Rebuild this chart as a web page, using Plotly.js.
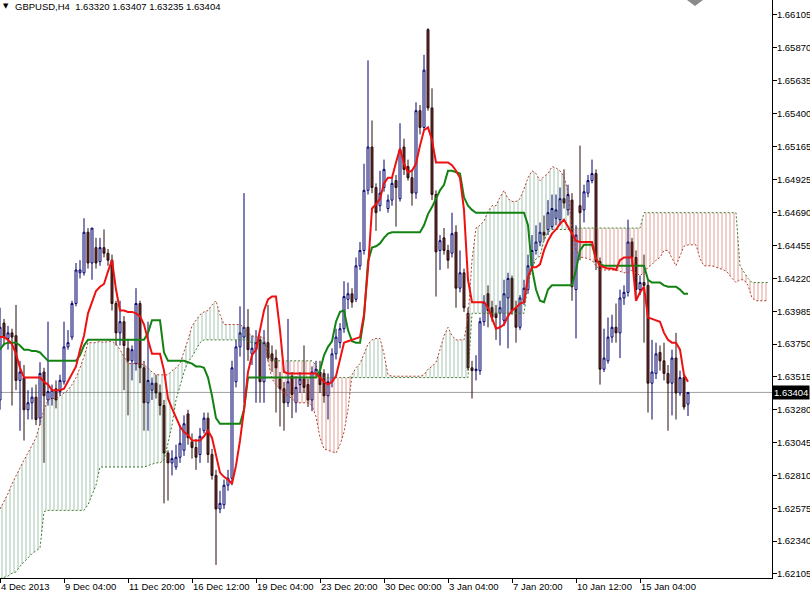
<!DOCTYPE html>
<html><head><meta charset="utf-8">
<script src="https://cdn.plot.ly/plotly-3.0.1.min.js"></script>
<style>html,body{margin:0;padding:0;background:#fff;}#chart{width:810px;height:595px;}</style>
</head><body><div id="chart"></div>
<script>
const symbol = 'GBPUSD', timeframe = 'H4';
const timeLabels = ['4 Dec 2013','9 Dec 04:00','11 Dec 20:00','16 Dec 12:00','19 Dec 04:00','23 Dec 20:00','30 Dec 00:00','3 Jan 04:00','7 Jan 20:00','10 Jan 12:00','15 Jan 04:00'];
const timeLabelBars = [0,16,32,48,64,80,96,112,128,144,160];
const priceTicks = [1.66105,1.65870,1.65635,1.65400,1.65165,1.64925,1.64690,1.64455,1.64220,1.63985,1.63750,1.63515,1.63280,1.63045,1.62810,1.62575,1.62340,1.62105];
const lastPrice = 1.63404;

const open = [
1.6335,1.6390,1.6379,1.6383,1.6381,1.6349,1.6351,1.6328,1.6333,1.6337,
1.6322,1.6355,1.6335,1.6336,1.6343,1.6341,1.6348,1.6373,1.6380,1.6404,
1.6426,1.6426,1.6455,1.6433,1.6444,1.6434,1.6444,1.6440,1.6435,1.6404,
1.6383,1.6391,1.6372,1.6363,1.6361,1.6404,1.6358,1.6333,1.6342,1.6347,
1.6340,1.6331,1.6297,1.6290,1.6287,1.6294,1.6299,1.6325,1.6305,1.6301,
1.6296,1.6313,1.6322,1.6296,1.6281,1.6257,1.6260,1.6274,1.6279,1.6348,
1.6373,1.6380,1.6387,1.6368,1.6371,1.6378,1.6348,1.6376,1.6368,1.6365,
1.6350,1.6343,1.6333,1.6352,1.6333,1.6346,1.6350,1.6346,1.6335,1.6354,
1.6355,1.6354,1.6338,1.6348,1.6368,1.6376,1.6386,1.6407,1.6411,1.6407,
1.6431,1.6442,1.6485,1.6516,1.6487,1.6474,1.6487,1.6472,1.6478,1.6492,
1.6479,1.6516,1.6502,1.6494,1.6483,1.6542,1.6530,1.6600,1.6544,1.6482,
1.6442,1.6451,1.6442,1.6440,1.6455,1.6415,1.6426,1.6397,1.6358,1.6356,
1.6356,1.6391,1.6411,1.6401,1.6397,1.6397,1.6392,1.6408,1.6422,1.6401,
1.6387,1.6406,1.6414,1.6431,1.6442,1.6448,1.6455,1.6457,1.6459,1.6465,
1.6464,1.6479,1.6471,1.6478,1.6414,1.6474,1.6471,1.6483,1.6492,1.6497,
1.6434,1.6357,1.6363,1.6380,1.6387,1.6383,1.6408,1.6412,1.6448,1.6437,
1.6414,1.6419,1.6417,1.6347,1.6354,1.6369,1.6363,1.6354,1.6347,1.6365,
1.6340,1.6351,1.63320];
const high = [
1.6401,1.6393,1.6388,1.6386,1.6403,1.6363,1.6360,1.6342,1.6344,1.6346,
1.6362,1.6358,1.6391,1.6346,1.6349,1.6353,1.6391,1.6385,1.6406,1.6433,
1.6435,1.6465,1.6458,1.6458,1.6451,1.6451,1.6457,1.6443,1.6439,1.6406,
1.6406,1.6395,1.6378,1.6374,1.6415,1.6406,1.6363,1.6391,1.6351,1.6353,
1.6346,1.6335,1.6299,1.6299,1.6303,1.6317,1.6324,1.6328,1.6311,1.6307,
1.6315,1.6326,1.6326,1.6300,1.6285,1.6270,1.6278,1.6285,1.6363,1.6378,
1.6402,1.6483,1.6400,1.6381,1.6385,1.6381,1.6385,1.6403,1.6374,1.6371,
1.6355,1.6348,1.6393,1.6355,1.6352,1.6355,1.6374,1.6350,1.6359,1.6363,
1.6363,1.6357,1.6354,1.6372,1.6386,1.6390,1.6420,1.6419,1.6415,1.6437,
1.6448,1.6504,1.6578,1.6535,1.6490,1.6499,1.6507,1.6482,1.6494,1.6496,
1.6533,1.6522,1.6507,1.6500,1.6548,1.6546,1.6582,1.6601,1.6558,1.6485,
1.6453,1.6458,1.6446,1.6469,1.6460,1.6442,1.6429,1.6401,1.6363,1.6367,
1.6394,1.6410,1.6417,1.6406,1.6403,1.6406,1.6421,1.6426,1.6424,1.6406,
1.6410,1.6421,1.6439,1.6453,1.6460,1.6462,1.6467,1.6478,1.6482,1.6482,
1.6487,1.6500,1.6489,1.6483,1.6460,1.6517,1.6489,1.6496,1.6507,1.6500,
1.6437,1.6386,1.6394,1.6396,1.6404,1.6414,1.6417,1.6464,1.6451,1.6442,
1.6424,1.6439,1.6421,1.6378,1.6376,1.6374,1.6376,1.6360,1.6371,1.6383,
1.6356,1.6353,1.63407];
const low = [
1.6328,1.6374,1.6371,1.6331,1.6342,1.6313,1.6306,1.6321,1.6321,1.6317,
1.6317,1.6290,1.6331,1.6331,1.6329,1.6338,1.6346,1.6371,1.6378,1.6402,
1.6422,1.6424,1.6429,1.6421,1.6429,1.6431,1.6437,1.6431,1.6399,1.6374,
1.6374,1.6342,1.6324,1.6349,1.6356,1.6347,1.6313,1.6313,1.6335,1.6336,
1.6324,1.6261,1.6263,1.6281,1.6285,1.6290,1.6295,1.6303,1.6293,1.6285,
1.6290,1.6311,1.6290,1.6278,1.6217,1.6254,1.6257,1.6270,1.6274,1.6344,
1.6366,1.6333,1.6363,1.6360,1.6333,1.6333,1.6333,1.6363,1.6355,1.6326,
1.6316,1.6313,1.6330,1.6322,1.6326,1.6340,1.6340,1.6330,1.6327,1.6352,
1.6340,1.6333,1.6321,1.6344,1.6364,1.6372,1.6383,1.6400,1.6401,1.6405,
1.6428,1.6439,1.6482,1.6483,1.6456,1.6470,1.6484,1.6469,1.6474,1.6459,
1.6477,1.6496,1.6492,1.6474,1.6479,1.6525,1.6528,1.6542,1.6478,1.6409,
1.6428,1.6439,1.6429,1.6437,1.6401,1.6412,1.6398,1.6356,1.6336,1.6349,
1.6353,1.6388,1.6387,1.6391,1.6378,1.6374,1.6388,1.6372,1.6396,1.6376,
1.6385,1.6403,1.6411,1.6428,1.6439,1.6445,1.6449,1.6453,1.6457,1.6460,
1.6460,1.6472,1.6467,1.6406,1.6379,1.6435,1.6462,1.6480,1.6490,1.6428,
1.6346,1.6355,1.6361,1.6376,1.6376,1.6365,1.6403,1.6409,1.6431,1.6406,
1.6410,1.6376,1.6326,1.6321,1.6350,1.6356,1.6349,1.6313,1.6324,1.6321,
1.6338,1.6328,1.63235];
const close = [
1.6387,1.6380,1.6383,1.6380,1.6349,1.6355,1.6328,1.6333,1.6337,1.6321,
1.6354,1.6338,1.6341,1.6342,1.6335,1.6349,1.6373,1.6376,1.6404,1.6428,
1.6428,1.6455,1.6433,1.6458,1.6433,1.6444,1.6440,1.6435,1.6404,1.6383,
1.6391,1.6374,1.6363,1.6371,1.6404,1.6358,1.6333,1.6349,1.6347,1.6340,
1.6331,1.6297,1.6290,1.6293,1.6294,1.6304,1.6318,1.6308,1.6301,1.6294,
1.6309,1.6322,1.6296,1.6281,1.6257,1.6261,1.6274,1.6279,1.6358,1.6373,
1.6383,1.6387,1.6371,1.6372,1.6376,1.6348,1.6376,1.6365,1.6363,1.6358,
1.6343,1.6333,1.6348,1.6339,1.6344,1.6350,1.6344,1.6335,1.6355,1.6357,
1.6346,1.6338,1.6348,1.6368,1.6380,1.6386,1.6409,1.6411,1.6405,1.6431,
1.6442,1.6485,1.6516,1.6487,1.6469,1.6483,1.6500,1.6478,1.6490,1.6487,
1.6514,1.6500,1.6494,1.6483,1.6542,1.6530,1.6571,1.6544,1.6482,1.6441,
1.6449,1.6442,1.6435,1.6454,1.6415,1.6426,1.6401,1.6358,1.6356,1.6357,
1.6391,1.6405,1.6399,1.6394,1.6394,1.6401,1.6411,1.6422,1.6399,1.6387,
1.6408,1.6415,1.6431,1.6442,1.6448,1.6455,1.6453,1.6469,1.6472,1.6471,
1.6479,1.6476,1.6482,1.6416,1.6453,1.6469,1.6484,1.6492,1.6497,1.6434,
1.6357,1.6365,1.6380,1.6387,1.6383,1.6408,1.6412,1.6448,1.6437,1.6414,
1.6419,1.6417,1.6347,1.6355,1.6368,1.6363,1.6354,1.6347,1.6365,1.6340,
1.6351,1.6330,1.63404];

const tenkan = [
1.6380,1.6380,1.6378,1.6375,1.6368,1.6358,1.6351,1.6351,1.6351,1.6351,
1.6351,1.6348,1.6346,1.6342,1.6342,1.6342,1.6343,1.6348,1.6353,1.6359,
1.6371,1.6381,1.6397,1.6405,1.6413,1.6416,1.6418,1.6427,1.6435,1.6414,
1.6399,1.6399,1.6398,1.6398,1.6397,1.6395,1.6389,1.6378,1.6368,1.6368,
1.6368,1.6356,1.6336,1.6329,1.6322,1.6316,1.6312,1.6310,1.6306,1.6306,
1.6306,1.6309,1.6313,1.6308,1.6295,1.6283,1.6280,1.6278,1.6275,1.6288,
1.6306,1.6328,1.6355,1.6367,1.6371,1.6385,1.6399,1.6407,1.6409,1.6409,
1.6385,1.6355,1.6354,1.6354,1.6354,1.6354,1.6354,1.6354,1.6354,1.6354,
1.6351,1.6348,1.6346,1.6348,1.6352,1.6365,1.6376,1.6377,1.6378,1.6379,
1.6380,1.6396,1.6429,1.6472,1.6475,1.6479,1.6490,1.6494,1.6494,1.6505,
1.6515,1.6504,1.6498,1.6499,1.6504,1.6517,1.6528,1.6530,1.6521,1.6505,
1.6505,1.6505,1.6505,1.6503,1.6499,1.6494,1.6471,1.6421,1.6405,1.6405,
1.6405,1.6405,1.6401,1.6394,1.6386,1.6387,1.6389,1.6395,1.6399,1.6401,
1.6404,1.6405,1.6423,1.6430,1.6430,1.6432,1.6442,1.6449,1.6454,1.6457,
1.6461,1.6464,1.6459,1.6454,1.6449,1.6448,1.6448,1.6448,1.6448,1.6436,
1.6431,1.6430,1.6429,1.6429,1.6428,1.6435,1.6437,1.6437,1.6437,1.6406,
1.6412,1.6416,1.6394,1.6393,1.6392,1.6391,1.6383,1.6378,1.6376,1.6376,
1.6371,1.6353,1.6348];
const kijun = [
1.6371,1.6375,1.6376,1.6376,1.6376,1.6374,1.6371,1.6371,1.6370,1.6370,
1.6369,1.6366,1.6363,1.6363,1.6363,1.6363,1.6363,1.6363,1.6363,1.6363,
1.6367,1.6374,1.6378,1.6378,1.6378,1.6378,1.6378,1.6378,1.6378,1.6378,
1.6378,1.6378,1.6378,1.6378,1.6378,1.6378,1.6378,1.6383,1.6392,1.6392,
1.6392,1.6369,1.6363,1.6363,1.6363,1.6363,1.6363,1.6362,1.6361,1.6359,
1.6359,1.6358,1.6351,1.6338,1.6322,1.6318,1.6318,1.6318,1.6318,1.6318,
1.6318,1.6328,1.6351,1.6351,1.6351,1.6351,1.6351,1.6351,1.6351,1.6351,
1.6351,1.6351,1.6351,1.6351,1.6351,1.6351,1.6351,1.6351,1.6351,1.6351,
1.6356,1.6367,1.6373,1.6377,1.6391,1.6398,1.6399,1.6385,1.6377,1.6376,
1.6376,1.6394,1.6434,1.6444,1.6445,1.6447,1.6451,1.6454,1.6455,1.6455,
1.6455,1.6455,1.6455,1.6455,1.6455,1.6455,1.6460,1.6468,1.6473,1.6479,
1.6485,1.6489,1.6499,1.6499,1.6498,1.6497,1.6480,1.6474,1.6471,1.6469,
1.6469,1.6469,1.6469,1.6469,1.6469,1.6469,1.6469,1.6469,1.6469,1.6469,
1.6469,1.6469,1.6460,1.6429,1.6414,1.6406,1.6405,1.6414,1.6417,1.6417,
1.6417,1.6417,1.6417,1.6417,1.6428,1.6442,1.6446,1.6446,1.6446,1.6436,
1.6432,1.6431,1.6431,1.6431,1.6431,1.6431,1.6431,1.6431,1.6431,1.6431,
1.6431,1.6431,1.6421,1.6419,1.6419,1.6419,1.6417,1.6416,1.6416,1.6416,
1.6414,1.6411,1.6411];
const spanA = [
1.6257,1.6262,1.6268,1.6275,1.6281,1.6287,1.6292,1.6297,1.6303,1.6308,
1.6318,1.6328,1.6335,1.6336,1.6336,1.6338,1.6340,1.6342,1.6346,1.6351,
1.6358,1.6366,1.6376,1.6376,1.6376,1.6377,1.6376,1.6377,1.6377,1.6375,
1.6371,1.6366,1.6361,1.6361,1.6361,1.6361,1.6360,1.6358,1.6355,1.6353,
1.6353,1.6353,1.6353,1.6356,1.6358,1.6361,1.6369,1.6378,1.6388,1.6392,
1.6396,1.6398,1.6399,1.6403,1.6406,1.6396,1.6389,1.6389,1.6389,1.6389,
1.6389,1.6387,1.6383,1.6381,1.6380,1.6380,1.6380,1.6363,1.6350,1.6346,
1.6343,1.6340,1.6338,1.6336,1.6333,1.6333,1.6333,1.6333,1.6331,1.6323,
1.6308,1.6300,1.6299,1.6298,1.6297,1.6303,1.6312,1.6328,1.6353,1.6358,
1.6361,1.6368,1.6375,1.6378,1.6379,1.6379,1.6368,1.6353,1.6352,1.6352,
1.6352,1.6352,1.6352,1.6352,1.6352,1.6352,1.6353,1.6357,1.6359,1.6362,
1.6371,1.6381,1.6387,1.6381,1.6378,1.6378,1.6378,1.6394,1.6435,1.6458,
1.6460,1.6463,1.6470,1.6474,1.6474,1.6480,1.6485,1.6479,1.6477,1.6477,
1.6479,1.6486,1.6494,1.6499,1.6497,1.6492,1.6495,1.6497,1.6502,1.6501,
1.6499,1.6495,1.6484,1.6457,1.6442,1.6437,1.6437,1.6436,1.6435,1.6431,
1.6428,1.6428,1.6428,1.6428,1.6428,1.6427,1.6426,1.6426,1.6428,1.6426,
1.6424,1.6426,1.6430,1.6432,1.6435,1.6437,1.6442,1.6442,1.6436,1.6431,
1.6438,1.6445,1.6446,1.6446,1.6446,1.6436,1.6431,1.6431,1.6431,1.6430,
1.6429,1.6428,1.6426,1.6422,1.6419,1.6421,1.6421,1.6417,1.6408,1.6406,
1.6406,1.6406,1.6406];
const spanB = [
1.6207,1.6208,1.6209,1.6211,1.6212,1.6216,1.6219,1.6222,1.6225,1.6227,
1.6229,1.6255,1.6256,1.6256,1.6256,1.6256,1.6256,1.6256,1.6256,1.6256,
1.6256,1.6256,1.6260,1.6267,1.6274,1.6287,1.6287,1.6287,1.6287,1.6287,
1.6287,1.6287,1.6287,1.6287,1.6287,1.6287,1.6287,1.6288,1.6289,1.6290,
1.6290,1.6292,1.6304,1.6317,1.6335,1.6346,1.6355,1.6362,1.6366,1.6371,
1.6376,1.6378,1.6378,1.6378,1.6378,1.6378,1.6378,1.6378,1.6378,1.6378,
1.6378,1.6378,1.6377,1.6376,1.6376,1.6376,1.6376,1.6371,1.6363,1.6363,
1.6363,1.6363,1.6363,1.6363,1.6363,1.6363,1.6363,1.6363,1.6363,1.6360,
1.6351,1.6351,1.6351,1.6351,1.6351,1.6351,1.6351,1.6351,1.6351,1.6351,
1.6351,1.6351,1.6351,1.6351,1.6351,1.6351,1.6351,1.6351,1.6351,1.6351,
1.6351,1.6351,1.6351,1.6351,1.6351,1.6351,1.6351,1.6351,1.6351,1.6351,
1.6351,1.6351,1.6351,1.6351,1.6351,1.6351,1.6351,1.6351,1.6397,1.6397,
1.6397,1.6397,1.6397,1.6397,1.6397,1.6397,1.6397,1.6397,1.6397,1.6397,
1.6397,1.6397,1.6418,1.6429,1.6436,1.6438,1.6449,1.6455,1.6457,1.6457,
1.6457,1.6457,1.6457,1.6457,1.6458,1.6458,1.6458,1.6458,1.6458,1.6458,
1.6458,1.6458,1.6458,1.6458,1.6458,1.6458,1.6458,1.6458,1.6458,1.6458,
1.6458,1.6469,1.6469,1.6469,1.6469,1.6469,1.6469,1.6469,1.6469,1.6469,
1.6469,1.6469,1.6469,1.6469,1.6469,1.6469,1.6469,1.6469,1.6469,1.6469,
1.6469,1.6469,1.6469,1.6469,1.6469,1.6431,1.6426,1.6422,1.6419,1.6419,
1.6419,1.6419,1.6419];

const FONT = '"Liberation Sans", Arial, sans-serif';
const FS = 9.5;
const barIdx = open.map((_, i) => i);
const cloudIdx = spanA.map((_, i) => i);
const cloudTop = spanA.map((a, i) => Math.max(a, spanB[i]));
const N = open.length - 1;

const traces = [
  {type:'scatter', x:cloudIdx, y:spanA, mode:'lines', line:{width:0, color:'rgba(0,0,0,0)'}, hoverinfo:'skip'},
  {type:'scatter', x:cloudIdx, y:cloudTop, mode:'lines', line:{width:0, color:'rgba(0,0,0,0)'}, fill:'tonexty',
   fillcolor:'rgba(0,0,0,0)', fillpattern:{shape:'|', fgcolor:'rgba(200,80,60,0.55)', bgcolor:'rgba(255,255,255,0)', size:4, solidity:0.25, fillmode:'replace'}, hoverinfo:'skip'},
  {type:'scatter', x:cloudIdx, y:spanB, mode:'lines', line:{width:0, color:'rgba(0,0,0,0)'}, hoverinfo:'skip'},
  {type:'scatter', x:cloudIdx, y:cloudTop, mode:'lines', line:{width:0, color:'rgba(0,0,0,0)'}, fill:'tonexty',
   fillcolor:'rgba(0,0,0,0)', fillpattern:{shape:'|', fgcolor:'rgba(70,135,100,0.5)', bgcolor:'rgba(255,255,255,0)', size:4, solidity:0.25, fillmode:'replace'}, hoverinfo:'skip'},
  {type:'candlestick', x:barIdx, open:open, high:high, low:low, close:close,
   increasing:{line:{color:'#00006e', width:1}, fillcolor:'#ffffff'},
   decreasing:{line:{color:'#2a0c0c', width:1}, fillcolor:'#6e2c2c'}, hoverinfo:'skip'},
  {type:'scatter', x:cloudIdx, y:spanA, mode:'lines', line:{color:'#b2412e', width:1, dash:'2px,2px'}, hoverinfo:'skip'},
  {type:'scatter', x:cloudIdx, y:spanB, mode:'lines', line:{color:'#3c7a2c', width:1, dash:'2px,2px'}, hoverinfo:'skip'},
  {type:'scatter', x:barIdx, y:kijun, mode:'lines', line:{color:'#138213', width:2}, hoverinfo:'skip'},
  {type:'scatter', x:barIdx, y:tenkan, mode:'lines', line:{color:'#ee1111', width:2}, hoverinfo:'skip'}
];

const annotations = timeLabels.map((t, k) => ({
  x: timeLabelBars[k], xref:'x', y:0, yref:'paper', xanchor:'left', yanchor:'top', yshift:-1, xshift:-1,
  text:t, showarrow:false, font:{family:FONT, size:FS, color:'#000'}
}));
const fmt = v => v.toFixed(5);
annotations.push({x:0, xref:'paper', y:1, yref:'paper', xanchor:'left', yanchor:'top', xshift:13, yshift:1,
  text: symbol + ',' + timeframe + '  ' + fmt(open[N]) + ' ' + fmt(high[N]) + ' ' + fmt(low[N]) + ' ' + fmt(close[N]),
  showarrow:false, font:{family:FONT, size:FS, color:'#000'}});
annotations.push({x:0, xref:'paper', y:1, yref:'paper', xanchor:'left', yanchor:'top', xshift:1, yshift:0,
  text:'▼', showarrow:false, font:{family:'DejaVu Sans', size:7, color:'#000'}});
annotations.push({x:1, xref:'paper', y:lastPrice, yref:'y', xanchor:'left', yanchor:'middle', xshift:0,
  text: fmt(lastPrice), showarrow:false, bgcolor:'#000', borderpad:1, font:{family:FONT, size:FS, color:'#fff'}});

const layout = {
  width:810, height:595,
  margin:{l:0, r:38, t:0, b:17, pad:0},
  paper_bgcolor:'#fff', plot_bgcolor:'#fff',
  showlegend:false, hovermode:false,
  xaxis:{type:'linear', range:[0, 193], showgrid:false, zeroline:false, showline:true, linecolor:'#000', linewidth:1,
    ticks:'outside', ticklen:4, tickcolor:'#000', tickvals:timeLabelBars, showticklabels:false,
    rangeslider:{visible:false}, fixedrange:true},
  yaxis:{range:[1.62076, 1.66212], side:'right', showgrid:false, zeroline:false, showline:true, linecolor:'#000', linewidth:1,
    ticks:'outside', ticklen:4, tickcolor:'#000', tickvals:priceTicks, ticktext:priceTicks.map(fmt), ticklabelstandoff:-2,
    tickfont:{family:FONT, size:FS, color:'#000'}, fixedrange:true},
  shapes:[
    {type:'line', xref:'paper', x0:0, x1:1, yref:'y', y0:lastPrice, y1:lastPrice, line:{color:'#a0a0a0', width:1}, layer:'below'},
    {type:'path', xref:'paper', yref:'paper', path:'M 0.8899 1 L 0.9106 1 L 0.9003 0.9896 Z', fillcolor:'#8a8a8a', line:{width:0}}
  ],
  annotations:annotations
};
Plotly.newPlot('chart', traces, layout, {displayModeBar:false, staticPlot:true});
</script>
</body></html>
